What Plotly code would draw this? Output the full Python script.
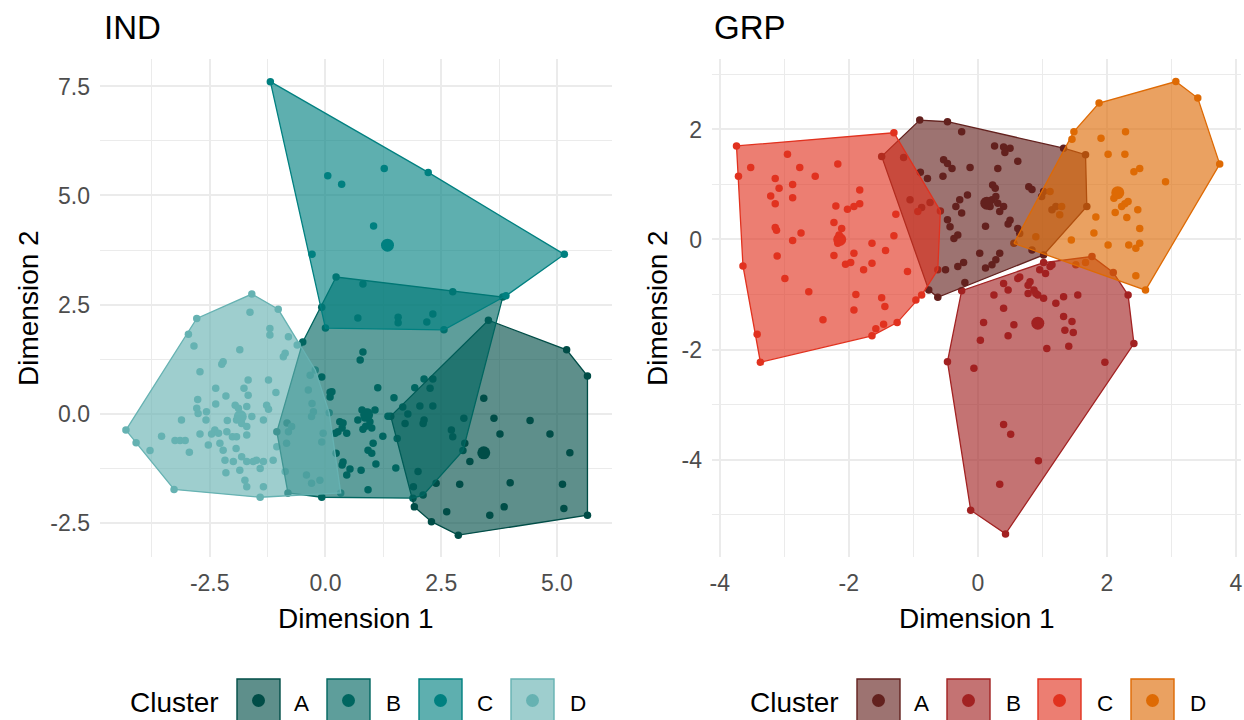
import plotly.graph_objects as go

W, H = 1244, 720
clusters = ["A", "B", "C", "D"]
ind_colors = ["#004D47", "#006660", "#008080", "#66B2B2"]
grp_colors = ["#63211E", "#A22222", "#E1321F", "#DE6A04"]
FILL_ALPHA = 0.63

# ---------------- IND panel data ----------------
ind_A_x = [1.41, 3.52, 5.21, 5.66, 5.66, 2.87, 2.29, 1.92, 3.42, 3.64, 4.42, 3.77, 4.85, 5.28, 3.12, 2.90,
           3.99, 5.12, 2.62, 3.55, 3.86, 5.15, 2.99, 2.72, 2.75, 2.39, 2.00, 1.90, 1.72, 2.11, 2.13, 3.01]
ind_A_y = [-0.06, 2.14, 1.46, 0.86, -2.33, -2.79, -2.48, -2.14, 0.35, -0.11, -0.16, -0.47, -0.47, -0.90, -1.10, -1.62,
           -1.59, -1.62, -2.25, -2.33, -2.14, -2.18, -0.11, -0.38, -0.53, -1.60, -1.33, -1.68, -0.23, -0.23, -0.15, -0.68]

ind_B_x = [0.23, 0.81, 2.75, 3.83, -0.08, 0.70, 1.57, 1.57, 2.19, 2.32, 0.81, 0.75, -0.08, 0.10, 0.10,
           1.13, 1.48, 1.93, 2.13, 2.32, 2.26, 2.04, 2.32, 1.67, 1.78, 0.79, 0.92, 0.85, 0.96, 0.70,
           1.00, 0.87, 1.07, 1.35, 0.38, 0.36, 0.21, 0.46, 0.81, 1.24, 1.03, 0.92, 1.00, 0.38, 0.36,
           0.53, 0.46, 0.77, 1.09, 1.52, 0.92, 0.23, -1.05, -0.83, -0.49, -0.81, -0.08, 1.89, 2.97, 2.11,
           0.27, 0.31, 1.55, 0.14]
ind_B_y = [3.13, 2.97, 2.79, 2.67, 2.44, 2.19, 2.21, 2.08, 2.10, 2.28, 1.41, 1.23, 0.84, 0.49, 0.38,
           0.59, 0.36, 0.59, 0.79, 0.79, 0.58, 0.17, 0.17, 0.15, -0.01, 0.08, 0.03, -0.10, -0.19, -0.15,
           -0.33, -0.29, 0.08, -0.06, -0.22, -0.33, -0.45, -0.45, -0.36, -0.52, -0.68, -0.84, -0.91, -1.11, -1.18,
           -1.27, -1.41, -1.30, -1.16, -1.25, -1.75, -0.91, -0.42, -0.22, 1.64, -1.82, -1.92, -1.94, -0.85, -1.87,
           -0.42, -0.19, -0.57, 0.50]

ind_C_x = [-1.19, 0.05, 0.35, 1.27, 2.22, 1.04, -0.29, 5.16, 0.00, 2.56, 3.90]
ind_C_y = [7.61, 5.45, 5.26, 5.62, 5.53, 4.30, 3.65, 3.65, 1.96, 1.92, 2.70]

ind_D_x = [-1.59, -1.02, -1.63, -2.78, -2.96, -1.20, -1.20, -2.84, -1.85, -2.21,
           -2.24, -0.80, -0.87, -0.91, -2.71, -1.67, -1.23, -2.37, -1.76, -1.67,
           -1.07, -2.15, -2.76, -2.78, -2.75, -2.57, -2.37, -1.95, -1.88, -1.70,
           -1.27, -1.23, -3.11, -2.58, -1.85, -1.92, -1.81, -1.70, -1.59, -1.34,
           -2.12, -2.39, -2.46, -2.31, -2.13, -2.01, -1.92, -1.70, -2.71, -3.54,
           -3.25, -3.14, -3.03, -2.94, -2.53, -2.28, -2.21, -1.93, -2.17, -1.99,
           -1.81, -1.70, -1.56, -1.49, -1.34, -1.13, -1.41, -1.34, -1.85, -1.74,
           -1.70, -2.15, -3.79, -4.09, -4.31, -3.27, -1.41, -0.87, -1.05, -0.80,
           -0.61, -0.33, -0.37, -0.29, -0.26, -0.30, -0.05, -0.08, -0.41, -0.30,
           -0.12, -0.73, -0.84, 0.08, 0.33, -0.22]
ind_D_y = [2.74, 2.39, 2.32, 2.18, 1.82, 1.95, 1.80, 1.55, 1.46, 1.19,
           1.13, 1.76, 1.38, 1.30, 0.96, 0.77, 0.77, 0.58, 0.58, 0.42,
           0.48, 0.40, 0.32, 0.12, 0.00, 0.04, 0.22, 0.19, 0.12, 0.16,
           0.19, 0.10, -0.15, -0.15, -0.03, -0.15, -0.23, -0.30, -0.07, -0.15,
           -0.16, -0.38, -0.47, -0.45, -0.42, -0.53, -0.53, -0.49, -0.47, -0.52,
           -0.62, -0.62, -0.62, -0.89, -0.72, -0.68, -0.84, -0.80, -1.07, -1.10,
           -0.99, -1.10, -1.10, -1.07, -1.10, -1.07, -1.26, -1.68, -1.30, -1.53,
           -1.68, -1.36, -0.85, -0.67, -0.38, -1.74, -1.92, -1.33, -0.76, -0.42,
           1.57, 0.88, 0.54, 0.23, 0.04, -0.07, -0.45, -0.65, -1.41, -1.60,
           -1.53, -0.30, -0.68, 0.02, -1.82, 1.00]

ind_center_x = [3.42, 0.89, 1.34, -1.84]
ind_center_y = [-0.90, -0.03, 3.86, -0.07]

# ---------------- GRP panel data ----------------
grp_A_x = [-0.90, -0.47, -0.25, 1.33, 1.67, 1.69, 1.02, -1.49, -0.76, -0.62,
           -1.15, -0.89, -0.78, -0.53, -0.47, -0.40, -0.54, -0.12, 0.26, 0.40,
           0.50, 0.42, 0.31, 0.62, 0.79, 0.84, 0.23, 0.27, 0.12, 0.22,
           0.31, 0.40, 0.19, 0.34, 0.28, -0.16, -0.28, -0.34, -0.25, -0.74,
           -1.05, -0.87, -0.47, -0.43, -0.31, -0.37, 0.12, 0.47, 0.50, 0.62,
           0.65, 0.99, 1.02, 1.15, 1.21, 0.03, 0.34, -0.22, -0.31, -0.50,
           -0.20, 0.12, 0.22, 0.28, 0.84]
grp_A_y = [2.17, 2.14, 1.96, 1.66, 1.54, 0.60, -0.28, 1.51, -0.92, -1.05,
           1.49, 1.22, 1.11, 1.45, 1.38, 1.29, 1.15, 1.31, 1.70, 1.68,
           1.66, 1.58, 1.29, 1.42, 0.96, 0.91, 0.99, 0.93, 0.69, 0.72,
           0.66, 0.60, 0.60, 0.51, 0.78, 0.81, 0.72, 0.60, 0.48, 0.67,
           0.72, 0.58, 0.36, 0.23, 0.08, 0.02, 0.24, 0.28, 0.35, 0.20,
           0.11, 0.78, 0.87, 0.54, 0.60, -0.25, -0.25, -0.42, -0.49, -0.55,
           -0.78, -0.52, -0.46, -0.37, -0.19]

grp_B_x = [1.02, 1.12, 0.96, 1.05, 0.65, 0.81, 0.87, 0.90, 0.78, 0.93,
           1.02, 1.33, 1.55, 0.47, 0.40, 0.25, 1.21, 0.40, 1.33, 1.46,
           0.56, 0.09, 0.47, 0.04, 1.35, 1.48, 1.07, 1.41, 1.97, -0.06,
           0.40, 0.51, 0.94, 0.34, -0.11, 0.43, 2.42, -0.47, 1.15, 0.78,
           0.62, 1.77, 2.10, 2.33, -0.25]
grp_B_y = [-0.42, -0.49, -0.55, -0.62, -0.68, -0.77, -0.92, -0.98, -0.98, -1.01,
           -1.07, -1.04, -1.01, -0.92, -0.80, -1.01, -1.16, -1.25, -1.40, -1.49,
           -1.55, -1.51, -1.75, -1.83, -1.65, -1.69, -1.98, -1.94, -2.23, -2.34,
           -3.36, -3.54, -4.02, -4.45, -4.92, -5.35, -1.89, -2.22, -0.46, -0.83,
           -0.71, -0.31, -0.60, -1.01, -0.93]

grp_C_x = [-3.74, -1.30, -3.71, -3.52, -2.95, -2.76, -2.17, -2.52, -3.14, -3.08,
           -2.87, -3.21, -3.14, -2.87, -1.83, -2.20, -2.02, -1.92, -1.83, -1.27,
           -2.23, -2.11, -3.14, -3.12, -2.74, -2.87, -2.15, -2.17, -1.30, -1.64,
           -1.43, -1.92, -2.23, -3.11, -3.64, -2.05, -1.97, -1.64, -1.77, -1.09,
           -2.99, -2.62, -1.89, -1.49, -1.44, -0.87, -2.40, -1.92, -1.58, -1.46,
           -1.25, -1.64, -3.42, -3.37, -0.58, -0.62, -0.93, -0.96]
grp_C_y = [1.70, 1.94, 1.15, 1.31, 1.55, 1.31, 1.37, 1.15, 1.11, 0.93,
           1.00, 0.79, 0.65, 0.76, 0.90, 0.61, 0.55, 0.60, 0.65, 0.46,
           0.31, 0.20, 0.22, 0.17, 0.12, -0.02, 0.08, -0.07, 0.07, -0.07,
           -0.20, -0.25, -0.29, -0.30, -0.48, -0.45, -0.42, -0.43, -0.55, -0.58,
           -0.71, -0.95, -1.00, -1.06, -1.22, -1.01, -1.46, -1.28, -1.62, -1.54,
           -1.51, -1.75, -1.72, -2.23, 0.52, -0.55, 0.51, -1.10]

grp_D_x = [3.07, 3.41, 1.88, 3.75, 2.60, 0.56, 1.49, 1.46, 2.29, 1.91,
           2.02, 2.28, 2.51, 2.42, 2.91, 2.11, 2.28, 2.33, 2.23, 2.48,
           2.13, 2.31, 1.12, 1.27, 1.30, 1.80, 1.45, 0.90, 2.02, 2.34,
           2.51, 2.45, 2.45, 1.67, 1.52, 2.51, 1.83]
grp_D_y = [2.87, 2.57, 2.48, 1.37, -0.92, -0.07, 1.96, 1.82, 1.96, 1.84,
           1.55, 1.55, 1.29, 1.23, 1.05, 0.75, 0.65, 0.69, 0.60, 0.54,
           0.49, 0.40, 0.87, 0.45, 0.60, 0.12, -0.01, 0.05, -0.10, -0.10,
           -0.07, -0.16, -0.66, -0.42, -0.46, 0.20, 0.41]

grp_center_x = [0.14, 0.93, -2.14, 2.17]
grp_center_y = [0.66, -1.52, 0.00, 0.85]

# ---------------- axes ----------------
ind_xticks = [-2.5, 0.0, 2.5, 5.0]
ind_xtick_text = ["-2.5", "0.0", "2.5", "5.0"]
ind_xminor = [-3.75, -1.25, 1.25, 3.75]
ind_yticks = [-2.5, 0.0, 2.5, 5.0, 7.5]
ind_ytick_text = ["-2.5", "0.0", "2.5", "5.0", "7.5"]
ind_yminor = [-1.25, 1.25, 3.75, 6.25]
grp_xticks = [-4, -2, 0, 2, 4]
grp_xtick_text = ["-4", "-2", "0", "2", "4"]
grp_xminor = [-3, -1, 1, 3]
grp_yticks = [-4, -2, 0, 2]
grp_ytick_text = ["-4", "-2", "0", "2"]
grp_yminor = [-5, -3, -1, 1, 3]

FONT = "Liberation Sans, Arial, Helvetica, sans-serif"


def rgba(hexc, a):
    h = hexc.lstrip("#")
    r, g, b = int(h[0:2], 16), int(h[2:4], 16), int(h[4:6], 16)
    return f"rgba({r},{g},{b},{a})"


def convex_hull(xs, ys):
    pts = sorted(set(zip(xs, ys)))

    def cross(o, a, b):
        return (a[0] - o[0]) * (b[1] - o[1]) - (a[1] - o[1]) * (b[0] - o[0])

    lower = []
    for p in pts:
        while len(lower) >= 2 and cross(lower[-2], lower[-1], p) <= 0:
            lower.pop()
        lower.append(p)
    upper = []
    for p in reversed(pts):
        while len(upper) >= 2 and cross(upper[-2], upper[-1], p) <= 0:
            upper.pop()
        upper.append(p)
    hull = lower[:-1] + upper[:-1]
    hull.append(hull[0])
    return [p[0] for p in hull], [p[1] for p in hull]


fig = go.Figure()

panels = [
    ("x", "y", [(ind_A_x, ind_A_y), (ind_B_x, ind_B_y), (ind_C_x, ind_C_y), (ind_D_x, ind_D_y)],
     ind_center_x, ind_center_y, ind_colors),
    ("x2", "y2", [(grp_A_x, grp_A_y), (grp_B_x, grp_B_y), (grp_C_x, grp_C_y), (grp_D_x, grp_D_y)],
     grp_center_x, grp_center_y, grp_colors),
]

for xa, ya, data, cx, cy, cols in panels:
    # points
    for (xs, ys), col in zip(data, cols):
        fig.add_trace(go.Scatter(x=xs, y=ys, mode="markers", xaxis=xa, yaxis=ya,
                                 marker=dict(size=7.5, color=col, line=dict(width=0)),
                                 showlegend=False, hoverinfo="skip"))
    # cluster centres
    for i, col in enumerate(cols):
        fig.add_trace(go.Scatter(x=[cx[i]], y=[cy[i]], mode="markers", xaxis=xa, yaxis=ya,
                                 marker=dict(size=13, color=col, line=dict(width=0)),
                                 showlegend=False, hoverinfo="skip"))
    # convex hulls
    for (xs, ys), col in zip(data, cols):
        hx, hy = convex_hull(xs, ys)
        fig.add_trace(go.Scatter(x=hx, y=hy, mode="lines", fill="toself", xaxis=xa, yaxis=ya,
                                 fillcolor=rgba(col, FILL_ALPHA),
                                 line=dict(color=col, width=1.3),
                                 showlegend=False, hoverinfo="skip"))

GRID = "#EBEBEB"
TICKFONT = dict(family=FONT, size=23, color="#4D4D4D")


def axis_common(ticks, text, minor, rng, domain, anchor, is_x):
    d = dict(domain=domain, range=rng, anchor=anchor, tickmode="array", tickvals=ticks, ticktext=text,
             showgrid=True, gridcolor=GRID, gridwidth=1.6, zeroline=False, showline=False,
             ticks="", tickfont=TICKFONT, automargin=False, fixedrange=True,
             minor=dict(tickmode="array", tickvals=minor, showgrid=True, gridcolor=GRID, gridwidth=1.1, ticks=""),
             ticklabelstandoff=10 if is_x else 9)
    return d


px = lambda v: v / W
py = lambda v: 1 - v / H

layout = dict(
    width=W, height=H, margin=dict(l=0, r=0, t=0, b=0), template="none",
    paper_bgcolor="white", plot_bgcolor="white", showlegend=False,
    font=dict(family=FONT, color="black"),
    xaxis=axis_common(ind_xticks, ind_xtick_text, ind_xminor, [-4.87, 6.19], [px(100), px(612)], "y", True),
    yaxis=axis_common(ind_yticks, ind_ytick_text, ind_yminor, [-3.29, 8.13], [py(557), py(59)], "x", False),
    xaxis2=axis_common(grp_xticks, grp_xtick_text, grp_xminor, [-4.12, 4.08], [px(712), px(1241)], "y2", True),
    yaxis2=axis_common(grp_yticks, grp_ytick_text, grp_yminor, [-5.77, 3.28], [py(557), py(59)], "x2", False),
)
fig.update_layout(**layout)

ann = []
shapes = []
# titles
for txt, x0 in [("IND", 102), ("GRP", 712)]:
    ann.append(dict(text=txt, x=px(x0), y=py(28), xref="paper", yref="paper", xanchor="left", yanchor="middle",
                    showarrow=False, font=dict(family=FONT, size=33, color="black")))
# axis titles
for xc in [356, 976.5]:
    ann.append(dict(text="Dimension 1", x=px(xc), y=py(618), xref="paper", yref="paper", xanchor="center",
                    yanchor="middle", showarrow=False, font=dict(family=FONT, size=28, color="black")))
for xc in [28, 657]:
    ann.append(dict(text="Dimension 2", x=px(xc), y=py(308), xref="paper", yref="paper", xanchor="center",
                    yanchor="middle", textangle=-90, showarrow=False, font=dict(family=FONT, size=28, color="black")))

# legends (ggplot-style keys)
legend_specs = [
    (128, [237, 327, 419, 511], [301, 393, 485, 578], ind_colors),
    (748, [857, 947, 1038, 1131], [921, 1013, 1105, 1198], grp_colors),
]
for title_x, box_x, lab_x, cols in legend_specs:
    ann.append(dict(text="Cluster", x=px(title_x), y=py(702), xref="paper", yref="paper", xanchor="left",
                    yanchor="middle", showarrow=False, font=dict(family=FONT, size=28, color="black")))
    for i, lab in enumerate(clusters):
        bx = box_x[i]
        shapes.append(dict(type="rect", xref="paper", yref="paper", x0=px(bx), x1=px(bx + 43),
                           y0=py(722), y1=py(679), fillcolor=rgba(cols[i], FILL_ALPHA),
                           line=dict(color=cols[i], width=1.4), layer="above"))
        cxp, cyp = bx + 21.5, 700.5
        shapes.append(dict(type="circle", xref="paper", yref="paper", x0=px(cxp - 6.5), x1=px(cxp + 6.5),
                           y0=py(cyp + 6.5), y1=py(cyp - 6.5), fillcolor=cols[i], line=dict(width=0),
                           layer="above"))
        ann.append(dict(text=lab, x=px(lab_x[i]), y=py(703), xref="paper", yref="paper", xanchor="center",
                        yanchor="middle", showarrow=False, font=dict(family=FONT, size=22.5, color="black")))

fig.update_layout(annotations=ann, shapes=shapes)

fig.write_html("out.html", config={"displayModeBar": False},
               post_script="document.body.style.margin='0';document.body.style.overflow='hidden';")
